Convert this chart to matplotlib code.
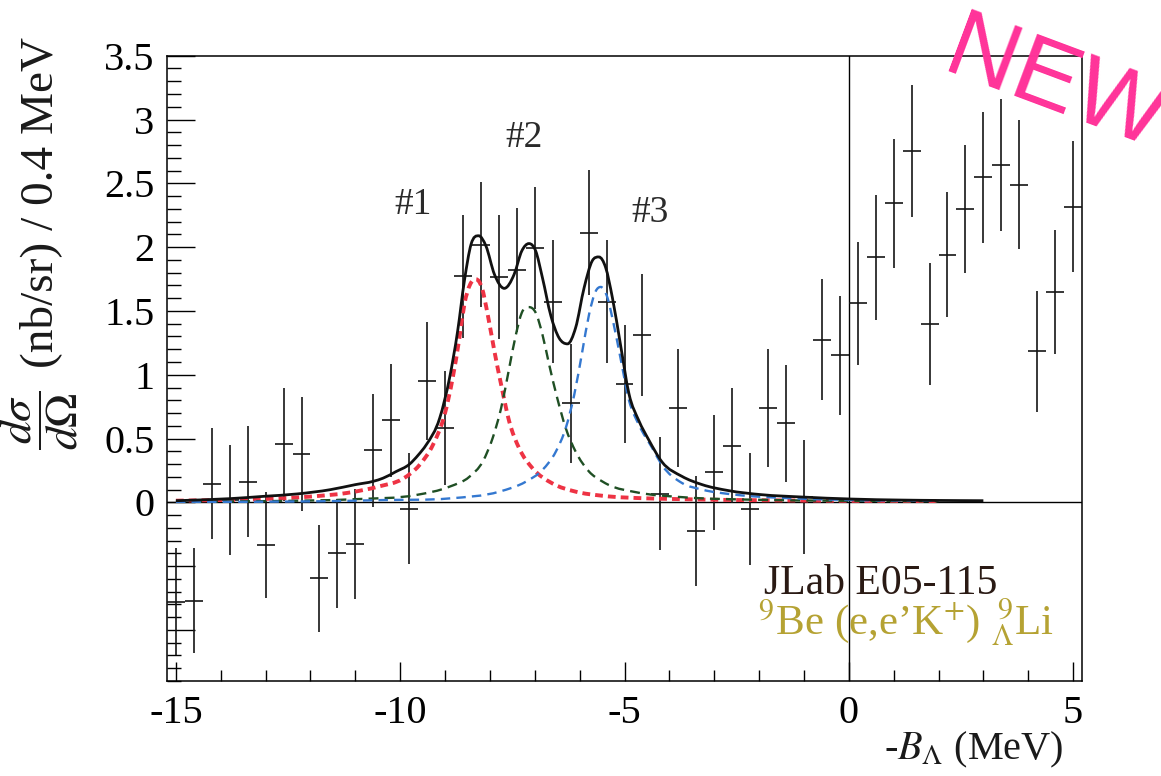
import matplotlib
matplotlib.use("Agg")
import numpy as np
import matplotlib.pyplot as plt
from matplotlib.path import Path
from matplotlib.patches import PathPatch
from matplotlib.ticker import FixedLocator, MultipleLocator, FuncFormatter

plt.rcParams["font.family"] = ["Liberation Serif", "DejaVu Serif"]
plt.rcParams["mathtext.fontset"] = "stix"

# ---- data: binned spectrum (0.4 MeV bins) ----
bin_x = [-15.0, -14.6, -14.2, -13.8, -13.4, -13.0, -12.6, -12.2, -11.8, -11.4,
         -11.0, -10.6, -10.2, -9.8, -9.4, -9.0, -8.6, -8.2, -7.8, -7.4,
         -7.0, -6.6, -6.2, -5.8, -5.4, -5.0, -4.6, -4.2, -3.8, -3.4,
         -3.0, -2.6, -2.2, -1.8, -1.4, -1.0, -0.6, -0.2, 0.2, 0.6,
         1.0, 1.4, 1.8, 2.2, 2.6, 3.0, 3.4, 3.8, 4.2, 4.6, 5.0]
counts = [-0.78, -0.77, 0.147, 0.016, 0.16, -0.336, 0.455, 0.381, -0.596, -0.40,
          -0.326, 0.407, 0.642, -0.049, 0.952, 0.583, 1.77, 2.018, 1.768, 1.823,
          1.994, 1.573, 0.776, 2.114, 1.573, 0.926, 1.311, 0.069, 0.74, -0.223,
          0.235, 0.445, -0.051, 0.738, 0.619, 0.04, 1.274, 1.151, 1.561, 1.919,
          2.342, 2.756, 1.396, 1.942, 2.299, 2.547, 2.646, 2.488, 1.184, 1.647, 2.316]
count_err = [0.42, 0.41, 0.435, 0.43, 0.435, 0.415, 0.443, 0.445, 0.416, 0.424,
             0.43, 0.443, 0.443, 0.435, 0.46, 0.45, 0.48, 0.49, 0.487, 0.485,
             0.48, 0.48, 0.466, 0.49, 0.48, 0.46, 0.475, 0.44, 0.46, 0.43,
             0.45, 0.45, 0.436, 0.463, 0.46, 0.447, 0.475, 0.466, 0.483, 0.49,
             0.506, 0.517, 0.48, 0.493, 0.504, 0.513, 0.518, 0.506, 0.474, 0.488, 0.512]
bin_half = 0.2

# ---- fit curves ----
total_x = [-15.0, -13.8, -13.05, -12.3, -11.55, -11.0, -10.6, -10.38, -10.1, -9.79,
           -9.6, -9.42, -9.12, -8.9, -8.72, -8.57, -8.42, -8.25, -8.09, -7.9,
           -7.68, -7.46, -7.29, -7.13, -6.98, -6.83, -6.64, -6.46, -6.27, -6.09,
           -5.9, -5.72, -5.57, -5.42, -5.27, -5.09, -4.9, -4.68, -4.46, -4.16,
           -3.72, -3.27, -2.68, -1.94, -1.05, 0.06, 1.17, 2.0, 3.0]
total_y = [0.013, 0.029, 0.047, 0.066, 0.10, 0.139, 0.165, 0.19, 0.24, 0.30,
           0.37, 0.451, 0.66, 0.975, 1.342, 1.735, 2.023, 2.089, 2.01, 1.787,
           1.677, 1.787, 1.97, 2.028, 1.97, 1.761, 1.46, 1.289, 1.242, 1.368,
           1.682, 1.892, 1.923, 1.84, 1.604, 1.237, 0.85, 0.64, 0.49, 0.315,
           0.204, 0.139, 0.092, 0.06, 0.042, 0.026, 0.018, 0.015, 0.013]

peak1_x = [-15.0, -13.05, -11.94, -11.2, -10.46, -9.94, -9.57, -9.27, -9.01, -8.83,
           -8.68, -8.57, -8.44, -8.31, -8.18, -8.05, -7.9, -7.75, -7.57, -7.35,
           -7.05, -6.61, -6.09, -5.5, -4.46, -4.02, -1.79, 2.0]
peak1_y = [0.013, 0.026, 0.047, 0.073, 0.126, 0.185, 0.293, 0.451, 0.687, 0.975,
           1.289, 1.551, 1.709, 1.748, 1.682, 1.473, 1.184, 0.922, 0.634, 0.425,
           0.267, 0.149, 0.084, 0.052, 0.031, 0.027, 0.016, 0.010]

peak2_x = [-15.0, -12.9, -11.0, -9.64, -8.9, -8.46, -8.16, -7.94, -7.75, -7.57,
           -7.42, -7.29, -7.13, -6.98, -6.83, -6.68, -6.5, -6.31, -6.09, -5.79,
           -5.5, -5.35, -4.75, -3.64, -2.16, -0.31, 2.0]
peak2_y = [0.006, 0.01, 0.025, 0.058, 0.123, 0.2, 0.32, 0.503, 0.739, 1.053,
           1.316, 1.486, 1.53, 1.486, 1.316, 1.08, 0.818, 0.582, 0.398, 0.241,
           0.165, 0.136, 0.08, 0.039, 0.021, 0.013, 0.009]

peak3_x = [-15.0, -11.9, -10.38, -8.9, -7.79, -7.2, -6.83, -6.53, -6.31, -6.12,
           -5.94, -5.79, -5.64, -5.53, -5.38, -5.24, -5.09, -4.9, -4.68, -4.38,
           -4.16, -3.72, -3.27, -2.53, -1.42, -0.31, 2.0]
peak3_y = [0.004, 0.008, 0.018, 0.031, 0.084, 0.162, 0.254, 0.398, 0.582, 0.844,
           1.184, 1.473, 1.656, 1.688, 1.604, 1.394, 1.132, 0.8, 0.608, 0.425,
           0.29, 0.152, 0.1, 0.06, 0.034, 0.021, 0.012]

peak_labels = ["#1", "#2", "#3"]
peak_label_x = [-9.72, -7.23, -4.43]
peak_label_y = [2.33, 2.86, 2.27]

y_major = [-1.0, -0.5, 0.0, 0.5, 1.0, 1.5, 2.0, 2.5, 3.0, 3.5]
x_major = [-15, -10, -5, 0, 5]


def smooth_path(xs, ys):
    """Bezier path passing through the read points (tangents from neighbours)."""
    x = np.asarray(xs, float)
    y = np.asarray(ys, float)
    n = len(x)
    h = np.diff(x)
    s = np.diff(y) / h
    m = np.empty(n)
    m[0], m[-1] = s[0], s[-1]
    for i in range(1, n - 1):
        m[i] = (s[i - 1] * h[i] + s[i] * h[i - 1]) / (h[i - 1] + h[i])
        if s[i - 1] * s[i] <= 0:
            m[i] = 0.0
    verts = [(x[0], y[0])]
    codes = [Path.MOVETO]
    for i in range(n - 1):
        d = h[i] / 3.0
        verts += [(x[i] + d, y[i] + m[i] * d),
                  (x[i + 1] - d, y[i + 1] - m[i + 1] * d),
                  (x[i + 1], y[i + 1])]
        codes += [Path.CURVE4] * 3
    return Path(verts, codes)


def ytick_fmt(v, pos):
    if v < 0:
        return ""
    return f"{v:g}"


fig = plt.figure(figsize=(11.61, 7.76), dpi=100)
ax = fig.add_axes([0.1438, 0.1224, 0.7882, 0.8058])

ax.axhline(0, color="black", lw=1.0, zorder=1)
ax.axvline(0, color="black", lw=1.0, zorder=1)

ax.errorbar(bin_x, counts, yerr=count_err, xerr=bin_half, fmt="none",
            ecolor="#151515", elinewidth=1.2, capsize=0, zorder=3)

curves = [
    (peak1_x, peak1_y, "#ee3344", 2.8, (0, (2.0, 1.3))),
    (peak2_x, peak2_y, "#1f4f24", 1.7, (0, (4.2, 2.6))),
    (peak3_x, peak3_y, "#3478d0", 1.7, (0, (4.0, 2.6))),
    (total_x, total_y, "#111111", 2.0, "solid"),
]
for cx, cy, col, lw, ls in curves:
    ax.add_patch(PathPatch(smooth_path(cx, cy), fill=False, edgecolor=col,
                           lw=lw, linestyle=ls, capstyle="butt", zorder=4))

for lab, lx, ly in zip(peak_labels, peak_label_x, peak_label_y):
    ax.text(lx, ly, lab, fontsize=27, color="#2a2a2a", ha="center", va="center")

ax.text(0.72, -0.715, "JLab E05-115", fontsize=30, color="#2a1a14",
        ha="center", va="baseline", zorder=6)
ax.text(1.28, -1.04, r"$^{9}$Be (e,e’K$^{+}$) $^{\;9}_{\Lambda}$Li", fontsize=31,
        color="#b5a233", ha="center", va="baseline", zorder=6)

ax.set_xlim(-15.2, 5.2)
ax.set_ylim(-1.4, 3.5)

ax.xaxis.set_major_locator(FixedLocator(x_major))
ax.xaxis.set_minor_locator(MultipleLocator(1.0))
ax.yaxis.set_major_locator(FixedLocator(y_major))
ax.yaxis.set_minor_locator(MultipleLocator(0.1))
ax.yaxis.set_major_formatter(FuncFormatter(ytick_fmt))
ax.xaxis.set_major_formatter(FuncFormatter(lambda v, p: f"{v:g}"))

ax.tick_params(axis="y", which="major", direction="in", length=20, width=1.0,
               labelsize=29, pad=9)
ax.tick_params(axis="y", which="minor", direction="in", length=10, width=1.0)
ax.tick_params(axis="x", which="major", direction="in", length=14, width=1.0,
               labelsize=29, pad=10)
ax.tick_params(axis="x", which="minor", direction="in", length=8, width=1.0)
for s in ax.spines.values():
    s.set_linewidth(1.1)

# y title: large fraction plus units text
fig.text(39 / 1161, 1 - 420 / 776, r"$\dfrac{d\sigma}{d\Omega}$",
         rotation=90, ha="center", va="center", fontsize=33, color="#1a1a1a")
fig.text(41 / 1161, 1 - 368 / 776, "(nb/sr) / 0.4 MeV",
         rotation=90, ha="center", va="bottom", fontsize=34, color="#1a1a1a")
fig.text(1063 / 1161, 1 - 750 / 776, r"-$B_{\Lambda}$ (MeV)",
         ha="right", va="center", fontsize=29, color="#1a1a1a")

fig.text(940 / 1161, 1 - 71 / 776, "NEW", family="Liberation Sans",
         fontsize=70, color="#ff3399", rotation=-20.5, rotation_mode="anchor",
         ha="left", va="baseline")

fig.savefig("out.png", dpi=100)
